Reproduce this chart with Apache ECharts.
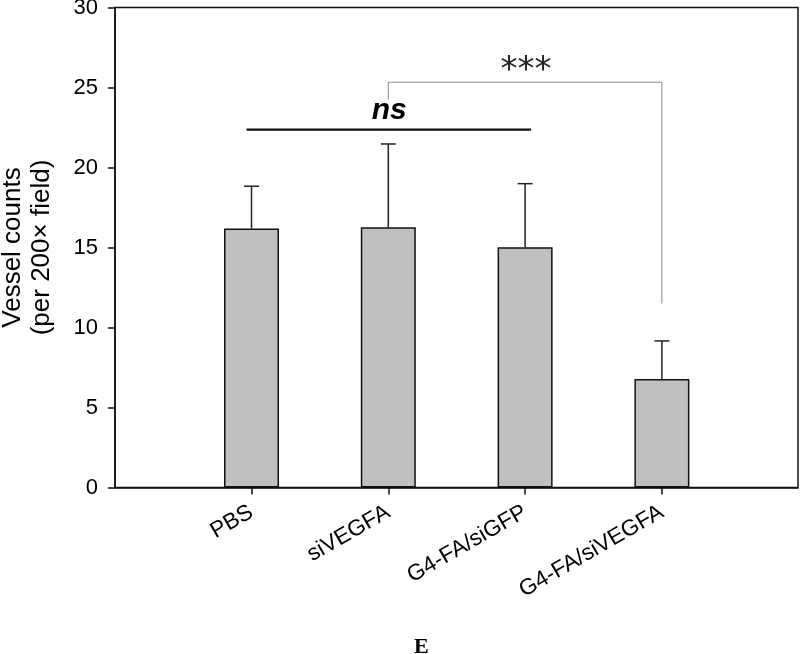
<!DOCTYPE html>
<html>
<head>
<meta charset="utf-8">
<script src="https://cdn.jsdelivr.net/npm/echarts@6/dist/echarts.min.js"></script>
<style>html,body{margin:0;padding:0;background:#fff}#c{width:800px;height:654px}</style>
</head>
<body>
<div id="c"></div>
<script>
const categories = ['PBS', 'siVEGFA', 'G4-FA/siGFP', 'G4-FA/siVEGFA'];
const means = [16.18, 16.26, 15.01, 6.78];
const errors = [2.65, 5.21, 3.98, 2.38];
const yTicks = [0, 5, 10, 15, 20, 25, 30];
const nsSpan = [0, 2];
const nsLevel = 22.37;
const nsText = 'ns';
const sigSpan = [1, 3];
const sigLevels = [24.25, 25.33, 11.5];
const sigText = '***';
const yTitle = 'Vessel counts\n(per 200\u00d7 field)';
const panelLabel = 'E';

const FONT = '"Liberation Sans", Arial, Helvetica, sans-serif';
const chart = echarts.init(document.getElementById('c'), null, {renderer: 'canvas'});

const errData = categories.map((c, i) => [i, means[i], means[i] + errors[i]]);

const option = {
  animation: false,
  backgroundColor: '#fff',
  grid: [
    {left: 115, right: 2, top: 7.5, bottom: 166.5, show: true, borderColor: '#111', borderWidth: 1.5,
     backgroundColor: 'transparent', containLabel: false, outerBoundsMode: 'none'},
    {left: 183.1, right: 69.7, top: 7.5, bottom: 166.5, containLabel: false, outerBoundsMode: 'none'}
  ],
  xAxis: [
    {gridIndex: 0, type: 'value', min: 0, max: 1, axisLine: {show: true, lineStyle: {color: '#111', width: 1.5}},
     axisTick: {show: false}, axisLabel: {show: false}, splitLine: {show: false}},
    {gridIndex: 1, type: 'category', data: categories, boundaryGap: true,
     axisLine: {show: false},
     axisTick: {show: true, alignWithLabel: true, length: 7, lineStyle: {color: '#111', width: 1.5}},
     axisLabel: {rotate: 30, fontSize: 22.5, color: '#000', fontFamily: FONT, margin: 23, interval: 0},
     splitLine: {show: false}}
  ],
  yAxis: [
    {gridIndex: 0, type: 'value', min: yTicks[0], max: yTicks[yTicks.length - 1], interval: 5,
     axisLine: {show: true, lineStyle: {color: '#111', width: 1.5}},
     axisTick: {show: true, length: 7, lineStyle: {color: '#111', width: 1.5}},
     axisLabel: {fontSize: 22, color: '#000', fontFamily: FONT, margin: 17},
     splitLine: {show: false},
     name: yTitle, nameLocation: 'middle', nameRotate: 90, nameGap: 59,
     nameTextStyle: {fontSize: 26, color: '#000', fontFamily: FONT, lineHeight: 29}},
    {gridIndex: 1, type: 'value', min: 0, max: 30, show: false}
  ],
  series: [
    {type: 'bar', xAxisIndex: 1, yAxisIndex: 1, data: means, barWidth: 55,
     itemStyle: {color: '#c0c0c0', borderColor: '#111', borderWidth: 1.5}, z: 2},
    {type: 'custom', xAxisIndex: 1, yAxisIndex: 1, data: errData, z: 3,
     renderItem: function (params, api) {
       const base = api.coord([api.value(0), api.value(1)]);
       const top = api.coord([api.value(0), api.value(2)]);
       const hw = 7.5;
       return {type: 'group', children: [
         {type: 'line', shape: {x1: base[0], y1: base[1], x2: top[0], y2: top[1]}, style: {stroke: '#222', lineWidth: 1.5}},
         {type: 'line', shape: {x1: top[0] - hw, y1: top[1], x2: top[0] + hw, y2: top[1]}, style: {stroke: '#222', lineWidth: 1.5}}
       ]};
     }},
    {type: 'custom', xAxisIndex: 1, yAxisIndex: 1, data: [[nsSpan[0], nsSpan[1], nsLevel]], z: 4,
     renderItem: function (params, api) {
       const a = api.coord([api.value(0), api.value(2)]);
       const b = api.coord([api.value(1), api.value(2)]);
       const mid = api.coord([(api.value(0) + api.value(1)) / 2, api.value(2)]);
       return {type: 'group', children: [
         {type: 'line', shape: {x1: a[0] - 5, y1: a[1], x2: b[0] + 6, y2: b[1]}, style: {stroke: '#111', lineWidth: 2.2}},
         {type: 'text', style: {text: nsText, x: mid[0] + 1, y: a[1] - 4, textAlign: 'center', textVerticalAlign: 'bottom',
           font: 'italic bold 30px ' + FONT, fill: '#000'}}
       ]};
     }},
    {type: 'custom', xAxisIndex: 1, yAxisIndex: 1, data: [[sigSpan[0], sigSpan[1], sigLevels[0], sigLevels[1], sigLevels[2]]], z: 4,
     renderItem: function (params, api) {
       const p1 = api.coord([api.value(0), api.value(2)]);
       const p2 = api.coord([api.value(0), api.value(3)]);
       const p3 = api.coord([api.value(1), api.value(3)]);
       const p4 = api.coord([api.value(1), api.value(4)]);
       return {type: 'group', children: [
         {type: 'polyline', shape: {points: [p1, p2, p3, p4]}, style: {stroke: '#888', lineWidth: 1, fill: null}},
         {type: 'text', style: {text: sigText, x: (p2[0] + p3[0]) / 2 + 1, y: p2[1] - 11, textAlign: 'center', textVerticalAlign: 'middle',
           font: '34px "DejaVu Sans", sans-serif', fill: '#222'}}
       ]};
     }}
  ],
  graphic: [
    {type: 'text', left: 422 - 8, top: 636, style: {text: panelLabel, font: 'bold 22px "Liberation Serif", "Times New Roman", serif', fill: '#000'}}
  ]
};
chart.setOption(option);
</script>
</body>
</html>
